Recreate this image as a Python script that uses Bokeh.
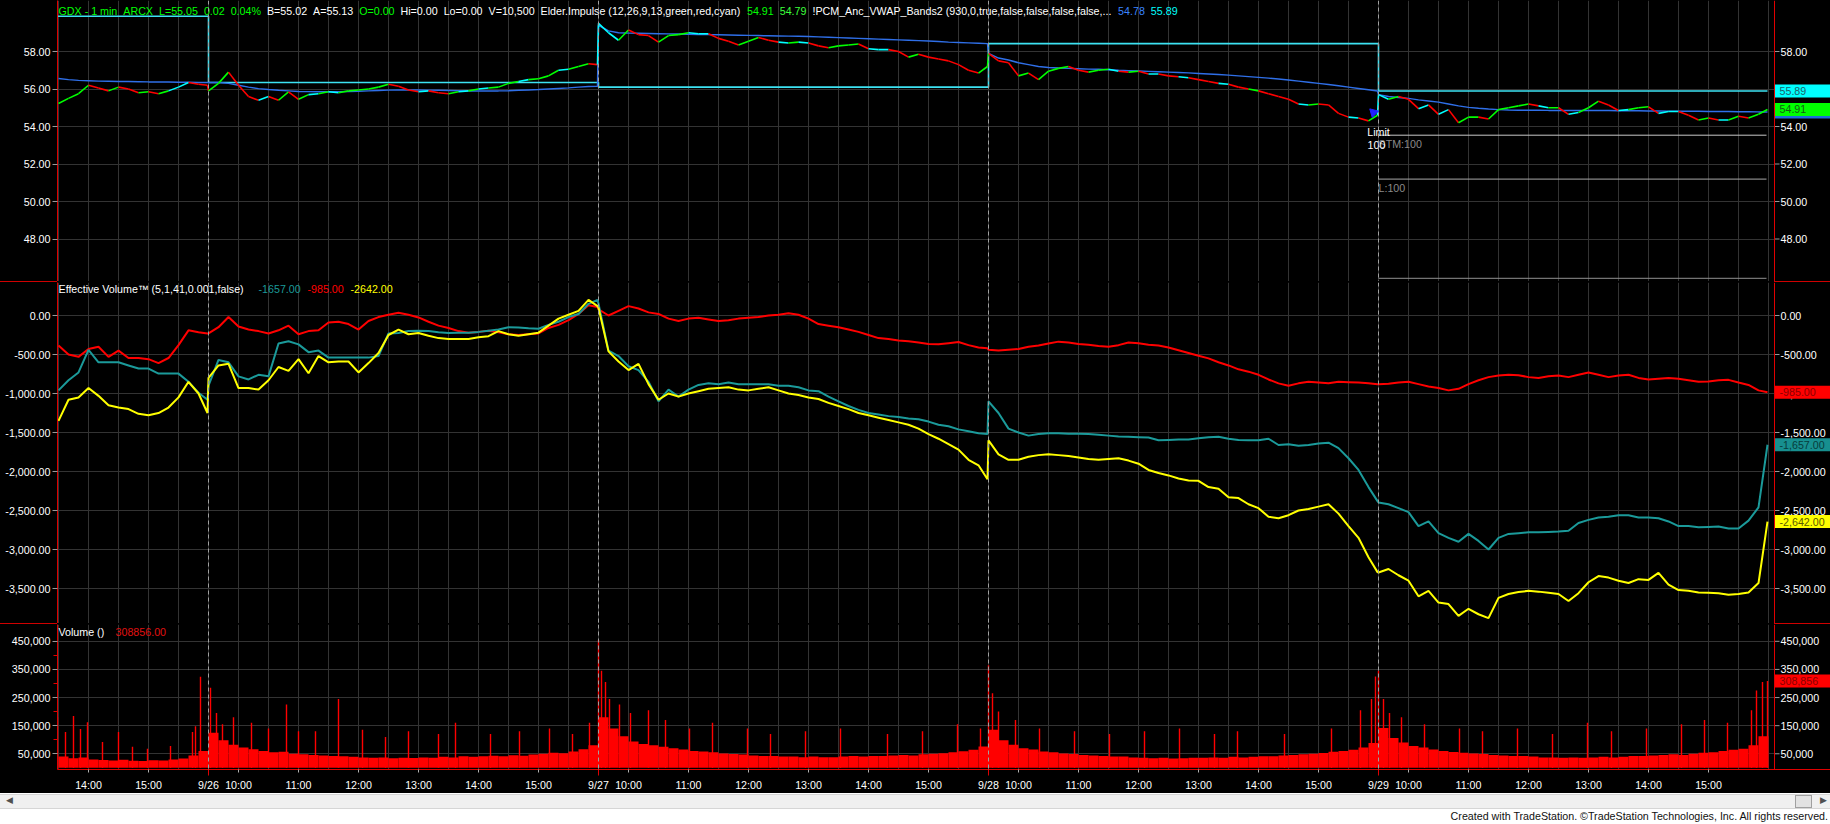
from bokeh.plotting import figure
from bokeh.models import Range1d, FixedTicker, NumeralTickFormatter, Span, Div, BoxAnnotation
from bokeh.layouts import column
from bokeh.core.properties import value
from bokeh.embed import file_html
from bokeh.resources import INLINE

# ---------------- data (1-minute bars, index 0 = 9/25 09:30) ----------------
DAYS = ["9/25", "9/26", "9/27", "9/28", "9/29"]
FIRST_MINUTE = [240, 0, 0, 0, 0]          # 9/25 starts at 13:30 on the chart
SESSION = 390

PRICE_0925 = [55.23, 55.50, 55.75, 56.20, 56.05, 55.90, 56.10, 56.00, 55.80, 55.85,
              55.75, 55.90, 56.10, 56.35, 56.25, 56.20]
PRICE_0926 = [55.90, 56.30, 56.90, 56.20, 55.60, 55.40, 55.60, 55.40, 55.85, 55.45,
              55.70, 55.75, 55.85, 55.80, 55.90, 55.95, 56.00, 56.10, 56.25, 56.15,
              55.95, 55.85, 55.90, 55.80, 55.75, 55.85, 55.90, 56.00, 56.05, 56.10,
              56.30, 56.40, 56.50, 56.55, 56.70, 57.00, 57.05, 57.20, 57.35, 57.30]
PRICE_0927 = [59.50, 59.00, 58.60, 59.15, 58.90, 58.85, 58.50, 58.85, 58.90, 59.00,
              58.95, 58.95, 58.70, 58.55, 58.35, 58.55, 58.75, 58.60, 58.50, 58.45,
              58.50, 58.45, 58.30, 58.20, 58.30, 58.35, 58.40, 58.15, 58.10, 58.10,
              58.00, 57.70, 57.85, 57.70, 57.60, 57.50, 57.30, 57.00, 56.85, 57.20]
PRICE_0928 = [57.90, 57.50, 57.40, 56.70, 56.85, 56.50, 56.95, 57.10, 57.20, 57.00,
              56.90, 57.00, 57.05, 56.95, 56.90, 56.95, 56.80, 56.80, 56.70, 56.65,
              56.60, 56.50, 56.40, 56.30, 56.25, 56.10, 56.00, 55.90, 55.75, 55.60,
              55.45, 55.20, 55.15, 55.20, 55.15, 54.70, 54.50, 54.45, 54.30, 54.60]
PRICE_0929 = [55.70, 55.45, 55.60, 55.45, 54.95, 55.15, 54.65, 54.90, 54.20, 54.50,
              54.50, 54.40, 54.90, 55.00, 55.10, 55.20, 55.10, 55.00, 55.00, 54.65,
              54.75, 55.00, 55.35, 55.15, 54.85, 54.90, 55.00, 55.05, 54.70, 54.80,
              54.80, 54.60, 54.35, 54.45, 54.35, 54.35, 54.55, 54.45, 54.65, 54.91]

# Elder impulse state of each sample (g = green, r = red, c = cyan)
IMPULSE_0925 = "g" "gggrr" "grrgr" "gccrr"
IMPULSE_0926 = "r" "ggrrr" "crgrg" "cgcgg" "gggrr" "rcrrg" "cgcgg" "gcggg" "cggr"
IMPULSE_0927 = "c" "ccgrr" "rgggc" "crrrg" "grrcg" "crrgg" "grccr" "rgrrr" "rrrg"
IMPULSE_0928 = "g" "rrrgr" "gggrr" "ggcrg" "rcrrc" "rrrcr" "rgrrr" "rcgrr" "rcrg"
IMPULSE_0929 = "c" "cgrrc" "rcrgg" "rgggg" "rcgrc" "ggrrc" "ggrcc" "rrgrc" "grgg"

VWAP_0925 = [56.56, 56.50, 56.46, 56.44, 56.42, 56.41, 56.40, 56.40, 56.39, 56.38,
             56.38, 56.37, 56.36, 56.36, 56.35, 56.35]
VWAP_0926 = [56.35, 56.35, 56.30, 56.20, 56.10, 56.02, 55.97, 55.93, 55.90, 55.87,
             55.86, 55.85, 55.85, 55.86, 55.87, 55.88, 55.90, 55.92, 55.94, 55.95,
             55.95, 55.95, 55.94, 55.93, 55.92, 55.91, 55.90, 55.90, 55.90, 55.90,
             55.91, 55.93, 55.95, 55.97, 56.00, 56.03, 56.06, 56.10, 56.13, 56.15]
VWAP_0927 = [59.40, 59.10, 59.00, 58.98, 58.97, 58.96, 58.95, 58.94, 58.93, 58.92,
             58.91, 58.90, 58.89, 58.88, 58.87, 58.86, 58.85, 58.84, 58.83, 58.82,
             58.81, 58.80, 58.78, 58.76, 58.74, 58.72, 58.70, 58.68, 58.66, 58.64,
             58.62, 58.60, 58.58, 58.56, 58.53, 58.50, 58.48, 58.46, 58.44, 58.42]
VWAP_0928 = [57.90, 57.65, 57.55, 57.40, 57.30, 57.20, 57.15, 57.12, 57.10, 57.08,
             57.06, 57.05, 57.03, 57.00, 56.98, 56.96, 56.94, 56.92, 56.90, 56.88,
             56.86, 56.83, 56.80, 56.77, 56.74, 56.70, 56.66, 56.62, 56.58, 56.53,
             56.48, 56.42, 56.36, 56.30, 56.24, 56.17, 56.10, 56.03, 55.96, 55.89]
VWAP_0929 = [55.70, 55.60, 55.55, 55.50, 55.42, 55.36, 55.30, 55.20, 55.10, 55.02,
             54.97, 54.93, 54.90, 54.88, 54.87, 54.87, 54.87, 54.86, 54.86, 54.86,
             54.85, 54.85, 54.85, 54.85, 54.84, 54.84, 54.84, 54.83, 54.83, 54.82,
             54.82, 54.81, 54.81, 54.80, 54.80, 54.80, 54.79, 54.79, 54.78, 54.78]

# previous-session VWAP band, one level per day
BAND_LEVEL = [59.88, 56.35, 56.10, 58.42, 55.89]

EV_RED_0925 = [-385, -500, -530, -430, -400, -530, -450, -545, -545, -560, -610, -545, -380, -190, -215, -230]
EV_RED_0926 = [-230, -150, -20, -140, -180, -200, -230, -190, -130, -240,
               -200, -190, -90, -80, -110, -180, -70, -20, 10, 35,
               10, -25, -80, -130, -160, -200, -220, -210, -195, -215,
               -240, -250, -240, -230, -160, -120, -60, 20, 130, 110]
EV_RED_0927 = [80, 0, 60, 120, 90, 40, 20, -40, -70, -40,
               -30, -50, -70, -60, -40, -30, -20, 0, 10, 30,
               10, -40, -110, -130, -150, -180, -210, -250, -290, -300,
               -320, -330, -345, -365, -370, -355, -340, -380, -410, -420]
EV_RED_0928 = [-440, -450, -440, -430, -400, -385, -360, -335, -345, -365,
               -375, -390, -400, -380, -345, -355, -375, -385, -410, -445,
               -480, -515, -550, -600, -640, -690, -720, -760, -820, -870,
               -900, -870, -850, -860, -870, -850, -855, -860, -870, -880]
EV_RED_0929 = [-880, -875, -860, -850, -880, -910, -930, -960, -940, -880,
               -830, -790, -770, -760, -765, -790, -800, -780, -770, -790,
               -760, -730, -760, -790, -770, -760, -800, -820, -810, -800,
               -810, -830, -850, -845, -830, -825, -860, -890, -960, -985]

EV_TEAL_0925 = [-960, -830, -730, -440, -600, -600, -600, -640, -680, -680, -745, -745, -745, -850, -990, -1080]
EV_TEAL_0926 = [-900, -570, -600, -780, -820, -760, -780, -360, -330, -370,
                -470, -450, -540, -540, -540, -540, -540, -520, -230, -225,
                -200, -195, -200, -215, -225, -220, -220, -210, -195, -180,
                -150, -155, -165, -170, -120, -80, -20, 20, 150, 200]
EV_TEAL_0927 = [150, -450, -520, -650, -700, -850, -1100, -950, -1040, -950,
                -890, -870, -880, -860, -880, -880, -880, -880, -900, -900,
                -920, -960, -970, -1040, -1100, -1160, -1210, -1250, -1270, -1290,
                -1300, -1320, -1330, -1360, -1400, -1420, -1460, -1485, -1510, -1520]
EV_TEAL_0928 = [-1100, -1250, -1450, -1500, -1540, -1520, -1510, -1510, -1515, -1515,
                -1520, -1530, -1540, -1550, -1555, -1560, -1565, -1600, -1595, -1590,
                -1590, -1575, -1560, -1555, -1580, -1595, -1600, -1600, -1580, -1660,
                -1650, -1670, -1660, -1640, -1630, -1700, -1830, -1980, -2200, -2380]
EV_TEAL_0929 = [-2397, -2420, -2470, -2520, -2700, -2640, -2790, -2850, -2900, -2800,
                -2890, -3000, -2850, -2800, -2790, -2780, -2780, -2775, -2770, -2760,
                -2660, -2620, -2590, -2580, -2560, -2560, -2590, -2590, -2600, -2640,
                -2700, -2700, -2715, -2710, -2705, -2730, -2730, -2630, -2460, -1657]

EV_YEL_0925 = [-1350, -1080, -1050, -930, -1030, -1150, -1180, -1200, -1260, -1280, -1250, -1180, -1050, -850, -1000, -1250]
EV_YEL_0926 = [-800, -640, -620, -930, -930, -950, -830, -660, -710, -560,
               -740, -520, -600, -590, -590, -730, -610, -480, -250, -180,
               -240, -225, -260, -290, -300, -300, -300, -280, -265, -200,
               -240, -260, -240, -220, -130, -40, 10, 60, 200, 120]
EV_YEL_0927 = [100, -460, -590, -700, -620, -880, -1080, -1000, -1040, -1000,
               -970, -940, -930, -920, -950, -960, -940, -920, -960, -1000,
               -1020, -1050, -1070, -1120, -1160, -1200, -1250, -1280, -1310, -1340,
               -1370, -1400, -1450, -1520, -1580, -1650, -1720, -1850, -1920, -2100]
EV_YEL_0928 = [-1600, -1780, -1850, -1850, -1810, -1790, -1780, -1790, -1800, -1820,
               -1840, -1850, -1840, -1830, -1860, -1900, -1980, -2020, -2050, -2090,
               -2115, -2120, -2200, -2220, -2330, -2340, -2420, -2470, -2580, -2600,
               -2560, -2500, -2480, -2450, -2420, -2540, -2700, -2850, -3100, -3290]
EV_YEL_0929 = [-3295, -3250, -3330, -3400, -3600, -3530, -3680, -3700, -3850, -3760,
               -3830, -3880, -3620, -3570, -3545, -3530, -3540, -3555, -3570, -3660,
               -3560, -3420, -3340, -3360, -3400, -3430, -3380, -3390, -3300, -3450,
               -3520, -3530, -3550, -3555, -3560, -3580, -3570, -3550, -3430, -2642]

# volume: typical 10-minute level (thousands) plus individual spikes
VOL_BASE_0925 = [40, 34, 37, 30, 28, 26, 29, 25, 24, 27, 26, 30, 33, 44, 60]
VOL_BASE_0926 = [125, 98, 82, 72, 66, 60, 55, 57, 50, 48, 46, 44, 42, 41, 39, 37, 36, 37, 34, 36,
                 35, 37, 36, 39, 37, 41, 39, 41, 43, 41, 45, 43, 47, 50, 54, 52, 58, 66, 80]
VOL_BASE_0927 = [180, 140, 112, 94, 85, 80, 75, 70, 65, 60, 58, 55, 51, 49, 47, 44, 42, 42, 40, 40,
                 38, 40, 38, 38, 40, 42, 40, 42, 42, 44, 46, 44, 48, 50, 52, 55, 59, 64, 76]
VOL_BASE_0928 = [135, 98, 82, 70, 65, 58, 55, 51, 49, 46, 44, 42, 40, 40, 37, 36, 34, 36, 33, 34,
                 36, 36, 37, 36, 39, 37, 39, 41, 41, 44, 46, 48, 50, 53, 57, 60, 64, 72, 88]
VOL_BASE_0929 = [142, 106, 90, 78, 72, 65, 60, 56, 54, 51, 49, 46, 44, 42, 42, 40, 37, 37, 36, 37,
                 36, 37, 39, 37, 39, 42, 42, 44, 46, 48, 46, 50, 54, 55, 60, 64, 68, 80, 112]
SPIKE_AT = [239, 247, 255, 262, 269, 284, 300, 314, 329, 352, 374, 377, 382,
            392, 398, 404, 415, 433, 450, 468, 480, 497, 520, 544, 567, 590, 620, 637, 672, 701, 731, 754, 771,
            780, 783, 787, 791, 801, 812, 830, 847, 871, 894, 929, 952, 987, 1022, 1069, 1104, 1139, 1162,
            1170, 1174, 1180, 1197, 1221, 1256, 1291, 1326, 1361, 1396, 1419, 1466, 1513, 1542, 1553, 1557,
            1560, 1565, 1571, 1583, 1606, 1641, 1664, 1699, 1734, 1769, 1793, 1828, 1863, 1886, 1909, 1933,
            1938, 1944, 1949]
SPIKE_K = [180, 127, 184, 138, 162, 92, 127, 75, 68, 78, 127, 148, 324,
           285, 195, 155, 180, 160, 140, 225, 130, 130, 245, 135, 110, 130, 120, 160, 120, 130, 140, 120, 160,
           455, 345, 305, 245, 225, 195, 205, 170, 140, 160, 140, 120, 130, 140, 120, 130, 155, 140,
           365, 265, 200, 170, 140, 130, 120, 130, 140, 120, 130, 120, 140, 205, 245, 325,
           345, 245, 195, 180, 155, 140, 130, 140, 120, 160, 130, 140, 155, 170, 160, 205,
           275, 305, 308.856]

PRICE_TICKS = [48, 50, 52, 54, 56, 58]
EV_TICKS = [0, -500, -1000, -1500, -2000, -2500, -3000, -3500]
VOL_TICKS = [50000, 150000, 250000, 350000, 450000]

# ---------------- assembly ----------------
FONT = "Liberation Sans"
FS = "10.7px"
W, LB = 1830, 57                 # frame runs from x=57 to the right edge; price scale drawn at X1
X0 = 239                          # first visible minute (13:29 on 9/25), one pixel per minute
X1 = X0 + (1774 - LB)             # right price-scale line
XR = X0 + (W - LB)                # right edge of the frame
GRIDC = "#333333"
GREEN, RED, CYAN, WHITE = "#00ff00", "#ff0000", "#00ffff", "#ffffff"
TEAL, YELLOW, BLUE, BAND = "#1b9a9a", "#ffff00", "#2f6fe8", "#3ce2f2"
AXRED = "#e00000"
IMP_COL = {"g": GREEN, "r": RED, "c": CYAN}

def minutes(d):
    return list(range(FIRST_MINUTE[d], SESSION, 10)) + [SESSION - 1]

X = [d * SESSION + m for d in range(5) for m in minutes(d)]
PRICE = PRICE_0925 + PRICE_0926 + PRICE_0927 + PRICE_0928 + PRICE_0929
IMP = IMPULSE_0925 + IMPULSE_0926 + IMPULSE_0927 + IMPULSE_0928 + IMPULSE_0929
VWAP = VWAP_0925 + VWAP_0926 + VWAP_0927 + VWAP_0928 + VWAP_0929
EV_RED = EV_RED_0925 + EV_RED_0926 + EV_RED_0927 + EV_RED_0928 + EV_RED_0929
EV_TEAL = EV_TEAL_0925 + EV_TEAL_0926 + EV_TEAL_0927 + EV_TEAL_0928 + EV_TEAL_0929
EV_YEL = EV_YEL_0925 + EV_YEL_0926 + EV_YEL_0927 + EV_YEL_0928 + EV_YEL_0929
VOL_BASE = VOL_BASE_0925 + VOL_BASE_0926 + VOL_BASE_0927 + VOL_BASE_0928 + VOL_BASE_0929
VOL_X = [d * SESSION + m + 5 for d in range(5) for m in range(FIRST_MINUTE[d], SESSION, 10)]

DAY_STARTS = [d * SESSION for d in range(1, 5)]
GRID_X = list(range(240, 1951, 30))

AW = {' ': 278, '!': 278, '%': 889, '(': 333, ')': 333, ',': 278, '-': 333, '.': 278, ':': 278,
      '=': 584, '_': 556, '™': 1000, 'A': 667, 'B': 667, 'C': 722, 'D': 722, 'E': 667, 'G': 778,
      'H': 722, 'I': 278, 'L': 556, 'M': 833, 'O': 778, 'P': 667, 'R': 722, 'V': 667, 'W': 944,
      'X': 667, 'a': 556, 'c': 500, 'd': 556, 'e': 556, 'f': 278, 'g': 556, 'i': 222, 'l': 222,
      'm': 833, 'n': 556, 'o': 556, 'p': 556, 'r': 333, 's': 500, 't': 278, 'u': 556, 'v': 500, 'y': 500}

def tw(s, size=10.7):
    return sum(AW.get(ch, 556) for ch in s) * size / 1000.0

def px2x(px):
    return X0 + (px - LB)

xr = Range1d(X0, XR)

def panel(height, y0, y1, xaxis=False):
    p = figure(width=W, height=height, x_range=xr, y_range=Range1d(y0, y1),
               output_backend="svg", toolbar_location=None,
               x_axis_location="below" if xaxis else None, y_axis_location="left",
               min_border_left=LB, min_border_right=0, min_border_top=0,
               min_border_bottom=22 if xaxis else 0,
               background_fill_color="black", border_fill_color="black", outline_line_color=None)
    p.xgrid.ticker = FixedTicker(ticks=GRID_X)
    p.xgrid.grid_line_color = GRIDC
    p.ygrid.grid_line_color = GRIDC
    # keep the grid out of the right price-scale strip
    p.add_layout(BoxAnnotation(left=X1, level="underlay", fill_color="black", fill_alpha=1.0,
                               line_color=None))
    for loc in DAY_STARTS:
        p.add_layout(Span(location=loc, dimension="height", line_color="#a0a0a0",
                          line_dash="4 3", line_width=1))
    p.add_layout(Span(location=X1, dimension="height", line_color=AXRED, line_width=1))
    return p

def style_left(p, ticks, fmt, minor=None):
    ax = p.yaxis[0]
    ax.ticker = FixedTicker(ticks=ticks, minor_ticks=minor or [])
    ax.formatter = NumeralTickFormatter(format=fmt)
    ax.axis_line_color = AXRED
    ax.major_tick_line_color = "#9a9a9a"
    ax.major_tick_out = 5
    ax.major_tick_in = 0
    ax.minor_tick_line_color = AXRED if minor else None
    ax.minor_tick_out = 4
    ax.minor_tick_in = 0
    ax.major_label_text_color = WHITE
    ax.major_label_text_font = FONT
    ax.major_label_text_font_size = FS
    ax.major_label_standoff = 2
    p.ygrid.ticker = FixedTicker(ticks=ticks)

def right_scale(p, ticks, labels):
    # right-hand price scale of the TradeStation pane, drawn in the strip right of X1
    p.segment(x0=[X1] * len(ticks), y0=ticks, x1=[X1 + 5] * len(ticks), y1=ticks,
              line_color="#9a9a9a", line_width=1)
    p.text(x=[X1 + 6] * len(ticks), y=ticks, text=labels, text_color=WHITE,
           text_font=value(FONT), text_font_size=FS, text_baseline="middle", text_align="left")

def tag(p, y, text, bg, fg, upp):
    h = 6.5 * upp
    p.quad(left=[X1 + 0.5], right=[XR], bottom=[y - h], top=[y + h], fill_color=bg, line_color=None)
    p.text(x=[X1 + 5], y=[y], text=[text], text_color=fg, text_font=value(FONT),
           text_font_size=FS, text_baseline="middle", text_align="left")

def header(p, tokens, y):
    for txt, col, px in tokens:
        p.text(x=[px2x(px)], y=[y], text=[txt], text_color=col, text_font=value(FONT),
               text_font_size=FS, text_baseline="middle", text_align="left")

# ---- price panel (y 0..281) ----
def pv(abs_y):
    return 58 + (51 - abs_y) / 18.75

pp = panel(281, pv(281), pv(0))
style_left(pp, PRICE_TICKS, "0.00")
right_scale(pp, PRICE_TICKS, ["%.2f" % t for t in PRICE_TICKS])

bx, by = [], []
starts = [X0] + DAY_STARTS
ends = DAY_STARTS + [SESSION * 5 - 1]
for s, e, lv in zip(starts, ends, BAND_LEVEL):
    bx += [s, e]
    by += [lv, lv]
pp.line(bx, by, line_color=BAND, line_width=1.6)
pp.line(X, VWAP, line_color=BLUE, line_width=1.5)
pp.segment(x0=X[:-1], y0=PRICE[:-1], x1=X[1:], y1=PRICE[1:],
           line_color=[IMP_COL[c] for c in IMP[1:]], line_width=1.6)

# order lines on 9/29
for lvl, col in ((pv(134.7), "#c8c8c8"), (pv(178.6), "#a8a8a8"), (pv(277.8), "#909090")):
    pp.segment(x0=[1560], y0=[lvl], x1=[1948], y1=[lvl], line_color=col, line_width=1)
pp.scatter(x=[px2x(1373)], y=[pv(112)], marker="triangle", size=9, angle=0.8,
           fill_color="#2020ff", line_color="#2020ff")
pp.text(x=[px2x(1378)], y=[pv(131)], text=["Limit"], text_color=WHITE, text_font=value(FONT),
        text_font_size=FS, text_baseline="middle", text_align="center")
pp.text(x=[px2x(1378), px2x(1378)], y=[pv(143.5), pv(187)], text=["STM:100", "L:100"],
        text_color="#8a8a8a", text_font=value(FONT), text_font_size=FS,
        text_baseline="middle", text_align="left")
pp.text(x=[px2x(1376)], y=[pv(144)], text=["100"], text_color=WHITE, text_font=value(FONT),
        text_font_size=FS, text_baseline="middle", text_align="center")

ptoks = [("GDX - 1 min", GREEN), ("ARCX", GREEN), ("L=55.05", GREEN), ("0.02", GREEN),
         ("0.04%", GREEN), ("B=55.02", WHITE), ("A=55.13", WHITE), ("O=0.00", GREEN),
         ("Hi=0.00", WHITE), ("Lo=0.00", WHITE), ("V=10,500", WHITE),
         ("Elder.Impulse (12,26,9,13,green,red,cyan)", WHITE), ("54.91", GREEN),
         ("54.79", "#3cff3c"), ("!PCM_Anc_VWAP_Bands2 (930,0,true,false,false,false,false,...", WHITE),
         ("54.78", "#3a84ff"), ("55.89", CYAN)]
cur, placed = 58.0, []
for t, c in ptoks:
    placed.append((t, c, cur))
    cur += tw(t) + tw("  ")
header(pp, placed, pv(10))

tag(pp, 54.78, "54.78", "#1e6fd9", "#0a2a60", 1 / 18.75)
tag(pp, 55.89, "55.89", "#00ffff", "#1d5f6c", 1 / 18.75)
tag(pp, 54.91, "54.91", "#00ff00", "#145c14", 1 / 18.75)

# ---- effective volume panel (y 282..623) ----
def ev(abs_y):
    return (315 - abs_y) * 12.82

pe = panel(341, ev(623), ev(282))
style_left(pe, EV_TICKS, "0,0.00")
right_scale(pe, EV_TICKS, ["{:,.2f}".format(t) for t in EV_TICKS])
pe.line(X, EV_RED, line_color=RED, line_width=2)
pe.line(X, EV_TEAL, line_color=TEAL, line_width=2)
pe.line(X, EV_YEL, line_color=YELLOW, line_width=2)
header(pe, [("Effective Volume™ (5,1,41,0.001,false)", WHITE, 58), ("-1657.00", TEAL, 258),
            ("-985.00", RED, 307), ("-2642.00", YELLOW, 350)], ev(288))
tag(pe, -985, "-985.00", "#ff0000", "#8a0000", 12.82)
tag(pe, -1657, "-1,657.00", "#178f8f", "#073c3c", 12.82)
tag(pe, -2642, "-2,642.00", "#ffff00", "#5a5a00", 12.82)

# ---- volume panel (y 624..771, time axis below) ----
def vv(abs_y):
    return (769.3 - abs_y) * 3509

pv_ = panel(169, vv(771), vv(624), xaxis=True)
style_left(pv_, VOL_TICKS, "0,0", minor=[100000, 200000, 300000, 400000])
right_scale(pv_, VOL_TICKS, ["{:,}".format(t) for t in VOL_TICKS])
pv_.vbar(x=VOL_X, top=[v * 1000 for v in VOL_BASE], width=10, fill_color=RED, line_color=None)
pv_.vbar(x=SPIKE_AT, top=[v * 1000 for v in SPIKE_K], width=1.4, fill_color=RED, line_color=None)
header(pv_, [("Volume ()", WHITE, 58), ("308856.00", "#e01010", 115)], vv(632))
tag(pv_, 308856, "308,856", "#ff0000", "#8a0000", 3509)

ticks, labels = [], {}
for d in range(5):
    base = d * SESSION
    if d > 0:
        ticks.append(base)
        labels[base] = DAYS[d]
    for h in range(10, 16):
        t = base + h * 60 - 570
        if X0 <= t <= X1:
            ticks.append(t)
            labels[t] = "%d:00" % h
xa = pv_.xaxis[0]
xa.ticker = FixedTicker(ticks=ticks, minor_ticks=DAY_STARTS)
xa.major_label_overrides = labels
xa.axis_line_color = AXRED
xa.major_tick_line_color = "#b0b0b0"
xa.major_tick_out = 3
xa.major_tick_in = 0
xa.minor_tick_line_color = AXRED
xa.minor_tick_out = 6
xa.minor_tick_in = 0
xa.major_label_text_color = WHITE
xa.major_label_text_font = FONT
xa.major_label_text_font_size = FS
xa.major_label_standoff = 3
pv_.xgrid.ticker = FixedTicker(ticks=GRID_X)

SEP = {"background": "linear-gradient(to right, #d00000 0px, #d00000 57px, #000000 57px, "
                     "#000000 1774px, #d00000 1774px, #d00000 1830px)"}
sep1 = Div(text="", width=W, height=1, margin=0, styles=SEP)
sep2 = Div(text="", width=W, height=1, margin=0, styles=SEP)

bottom = Div(text=(
    '<div style="position:relative;width:1830px;height:31px;background:#ffffff;overflow:hidden;">'
    '<div style="position:absolute;left:0px;top:1px;width:1830px;height:15px;background:#f0f0f0;'
    'border-top:1px solid #d6d6d6;border-bottom:1px solid #d6d6d6;box-sizing:border-box;"></div>'
    '<span style="position:absolute;left:6px;top:2px;font:9px \'Liberation Sans\';color:#505050;">&#9664;</span>'
    '<span style="position:absolute;left:1795px;top:2px;width:17px;height:13px;background:#e2e2e2;'
    'border:1px solid #a0a0a0;box-sizing:border-box;"></span>'
    '<span style="position:absolute;left:1820px;top:2px;font:9px \'Liberation Sans\';color:#505050;">&#9654;</span>'
    '<span style="position:absolute;right:2px;top:17px;font:10.7px \'Liberation Sans\';line-height:13px;'
    'color:#111111;white-space:nowrap;">Created with TradeStation. &copy;TradeStation Technologies, Inc. '
    'All rights reserved.</span></div>'),
    width=W, height=31, margin=0)

layout = column(pp, sep1, pe, sep2, pv_, bottom, spacing=0, styles={"background-color": "black"})
open("out.html", "w").write(file_html(layout, INLINE))
